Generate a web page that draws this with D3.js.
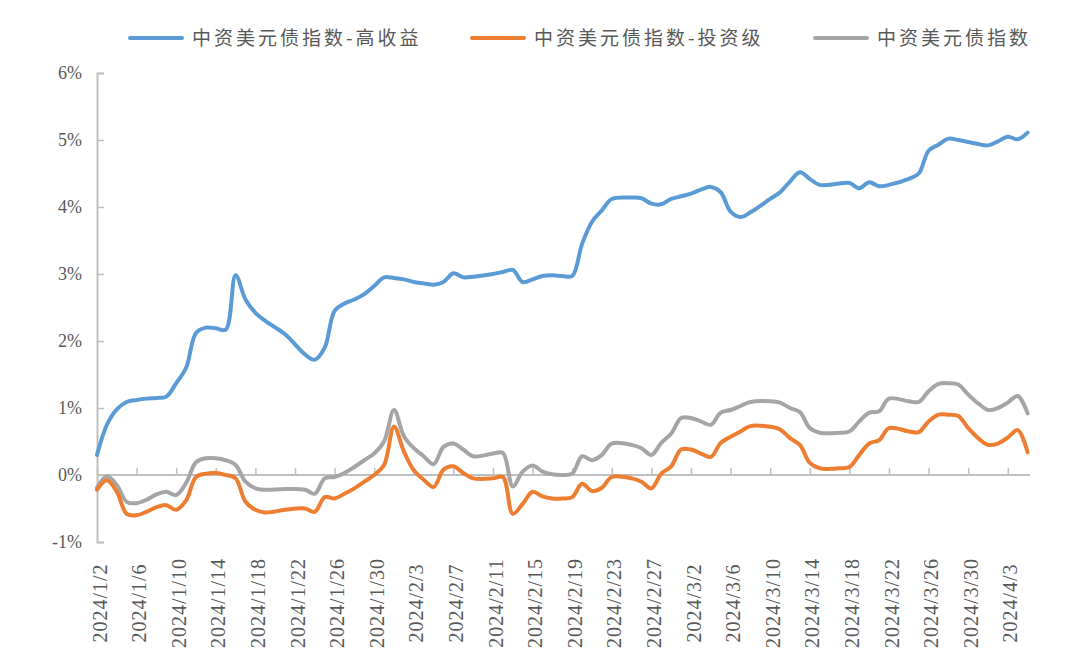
<!doctype html>
<html>
<head>
<meta charset="utf-8">
<title>中资美元债指数</title>
<script src="https://cdnjs.cloudflare.com/ajax/libs/d3/7.8.5/d3.min.js"></script>
<style>
  body { margin: 0; background: #fff; }
  .axis text { font-family: 'Liberation Serif', serif; fill: #595959; }
  .legend text { font-family: 'Noto Sans CJK SC', sans-serif; fill: #595959; }
</style>
</head>
<body>
<div id="chart"></div>
<script>
// values in %
var dates = ["2024/1/2","2024/1/3","2024/1/4","2024/1/5","2024/1/6","2024/1/7","2024/1/8","2024/1/9","2024/1/10","2024/1/11",
  "2024/1/12","2024/1/13","2024/1/14","2024/1/15","2024/1/16","2024/1/17","2024/1/18","2024/1/19","2024/1/21","2024/1/23",
  "2024/1/24","2024/1/25","2024/1/26","2024/1/27","2024/1/28","2024/1/29","2024/1/30","2024/1/31","2024/2/1","2024/2/2",
  "2024/2/3","2024/2/4","2024/2/5","2024/2/6","2024/2/7","2024/2/8","2024/2/9","2024/2/11","2024/2/12","2024/2/13",
  "2024/2/14","2024/2/15","2024/2/16","2024/2/17","2024/2/18","2024/2/19","2024/2/20","2024/2/21","2024/2/22","2024/2/23",
  "2024/2/25","2024/2/26","2024/2/27","2024/2/28","2024/2/29","2024/3/1","2024/3/2","2024/3/3","2024/3/4","2024/3/5",
  "2024/3/6","2024/3/7","2024/3/8","2024/3/10","2024/3/11","2024/3/12","2024/3/13","2024/3/14","2024/3/15","2024/3/17",
  "2024/3/18","2024/3/19","2024/3/20","2024/3/21","2024/3/22","2024/3/24","2024/3/25","2024/3/26","2024/3/27","2024/3/28",
  "2024/3/29","2024/3/30","2024/3/31","2024/4/1","2024/4/2","2024/4/3","2024/4/4","2024/4/5"];

var highYield = [0.30,0.75,0.98,1.09,1.12,1.14,1.15,1.17,1.37,1.60,
  2.12,2.20,2.19,2.17,2.98,2.62,2.42,2.30,2.10,1.80,
  1.72,1.90,2.45,2.56,2.62,2.70,2.82,2.95,2.94,2.92,
  2.88,2.86,2.84,2.88,3.01,2.95,2.96,3.00,3.03,3.06,
  2.88,2.92,2.97,2.98,2.97,2.97,3.45,3.78,3.95,4.12,
  4.14,4.13,4.05,4.04,4.12,4.16,4.20,4.26,4.30,4.22,
  3.93,3.85,3.92,4.12,4.22,4.38,4.52,4.42,4.33,4.35,
  4.36,4.28,4.37,4.31,4.33,4.42,4.50,4.84,4.93,5.02,
  5.00,4.97,4.94,4.92,4.98,5.05,5.01,5.11];

var investGrade = [-0.22,-0.08,-0.25,-0.58,-0.60,-0.55,-0.48,-0.45,-0.52,-0.38,
  -0.03,0.02,0.03,0.00,-0.05,-0.40,-0.52,-0.56,-0.52,-0.50,
  -0.55,-0.33,-0.35,-0.28,-0.20,-0.10,0.00,0.15,0.72,0.35,
  0.07,-0.07,-0.18,0.08,0.13,0.03,-0.05,-0.05,-0.03,-0.58,
  -0.43,-0.25,-0.32,-0.35,-0.35,-0.33,-0.13,-0.24,-0.19,-0.03,
  -0.05,-0.10,-0.20,0.02,0.13,0.38,0.38,0.32,0.27,0.48,
  0.57,0.65,0.73,0.72,0.68,0.55,0.45,0.18,0.10,0.10,
  0.12,0.30,0.47,0.52,0.70,0.65,0.64,0.80,0.90,0.90,
  0.88,0.70,0.55,0.45,0.47,0.56,0.67,0.34];

var overall = [-0.19,-0.02,-0.15,-0.40,-0.42,-0.37,-0.29,-0.25,-0.30,-0.12,
  0.19,0.25,0.25,0.22,0.15,-0.10,-0.20,-0.22,-0.21,-0.22,
  -0.28,-0.05,-0.03,0.03,0.12,0.22,0.32,0.50,0.97,0.58,
  0.40,0.28,0.16,0.42,0.47,0.38,0.28,0.32,0.33,-0.17,
  0.05,0.14,0.05,0.01,0.00,0.02,0.28,0.22,0.30,0.47,
  0.45,0.40,0.30,0.48,0.62,0.85,0.85,0.80,0.75,0.93,
  0.97,1.03,1.09,1.10,1.08,1.00,0.94,0.70,0.63,0.63,
  0.65,0.80,0.93,0.95,1.14,1.10,1.09,1.25,1.36,1.37,
  1.35,1.20,1.07,0.97,1.00,1.08,1.18,0.92];

var tickLabels = ["2024/1/2","2024/1/6","2024/1/10","2024/1/14","2024/1/18","2024/1/22","2024/1/26","2024/1/30",
  "2024/2/3","2024/2/7","2024/2/11","2024/2/15","2024/2/19","2024/2/23","2024/2/27","2024/3/2","2024/3/6",
  "2024/3/10","2024/3/14","2024/3/18","2024/3/22","2024/3/26","2024/3/30","2024/4/3"];

var yTicks = [-1, 0, 1, 2, 3, 4, 5, 6];

var seriesNames = ["中资美元债指数-高收益", "中资美元债指数-投资级", "中资美元债指数"];
var seriesColors = ["#5b9bd5", "#ed7d31", "#a5a5a5"];

var width = 1080, height = 654;
var parse = d3.timeParse("%Y/%m/%d");

var series = [highYield, investGrade, overall].map(function (vals, i) {
  return {
    name: seriesNames[i],
    color: seriesColors[i],
    values: vals.map(function (v, j) { return { date: parse(dates[j]), value: v }; })
  };
});

var svg = d3.select("#chart").append("svg").attr("width", width).attr("height", height);

var xScale = d3.scaleTime([parse("2024/1/2"), parse("2024/4/5")], [97, 1027.6]);
var yScale = d3.scaleLinear([-1, 6], [542, 73]);

// y axis: ticks pointing inwards
var yAxis = d3.axisLeft(yScale).tickValues(yTicks).tickSize(-7).tickPadding(15)
  .tickFormat(function (d) { return d + "%"; });
var gy = svg.append("g").attr("class", "axis y-axis")
  .attr("transform", "translate(97,0)").call(yAxis);
gy.select(".domain").attr("stroke", "#bfbfbf").attr("stroke-width", 2);
gy.selectAll(".tick line").attr("stroke", "#bfbfbf").attr("stroke-width", 1.5);
gy.selectAll(".tick text").attr("font-size", 18);

// x axis along the 0% line, ticks upward, labels low
var xAxis = d3.axisBottom(xScale).tickValues(tickLabels.map(parse)).tickSize(-7).tickSizeOuter(0)
  .tickFormat(function (d, i) { return tickLabels[i]; });
var gx = svg.append("g").attr("class", "axis x-axis")
  .attr("transform", "translate(0," + yScale(0) + ")").call(xAxis);
gx.select(".domain").attr("stroke", "#bfbfbf").attr("stroke-width", 2)
  .attr("d", "M97,0H1030");
gx.selectAll(".tick line").attr("stroke", "#bfbfbf").attr("stroke-width", 1.5);
gx.selectAll(".tick text")
  .attr("font-size", 20)
  .attr("letter-spacing", 1)
  .attr("text-anchor", "middle")
  .attr("dy", "0.35em")
  .attr("transform", "translate(2," + (603 - yScale(0)) + ") rotate(-90)")
  .attr("x", 0).attr("y", 0);

var line = d3.line()
  .x(function (d) { return xScale(d.date); })
  .y(function (d) { return yScale(d.value); })
  .curve(d3.curveCatmullRom.alpha(0.5));

svg.append("g").attr("class", "lines")
  .selectAll("path")
  .data(series.slice().reverse())
  .join("path")
  .attr("fill", "none")
  .attr("stroke", function (d) { return d.color; })
  .attr("stroke-width", 4)
  .attr("stroke-linejoin", "round")
  .attr("stroke-linecap", "round")
  .attr("d", function (d) { return line(d.values); });

// legend
var legendX = [130, 472, 815];
var legend = svg.append("g").attr("class", "legend");
var items = legend.selectAll("g").data(series).join("g")
  .attr("transform", function (d, i) { return "translate(" + legendX[i] + ",38)"; });
items.append("line")
  .attr("x1", 0).attr("x2", 52).attr("y1", 0).attr("y2", 0)
  .attr("stroke", function (d) { return d.color; })
  .attr("stroke-width", 4).attr("stroke-linecap", "round");
items.append("text")
  .attr("x", 62).attr("y", 0).attr("dy", "0.35em")
  .attr("font-size", 19).attr("letter-spacing", 3)
  .text(function (d) { return d.name; });
</script>
</body>
</html>
